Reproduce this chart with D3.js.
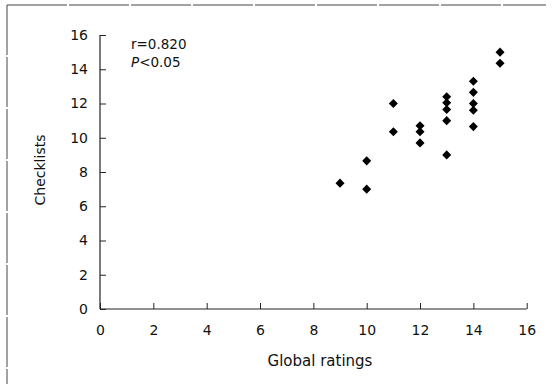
<!DOCTYPE html>
<html>
<head>
<meta charset="utf-8">
<script src="https://cdn.jsdelivr.net/npm/d3@7"></script>
<style>
  body { margin: 0; background: #fff; }
  text { font-family: "DejaVu Sans", sans-serif; fill: #111; }
</style>
</head>
<body>
<svg id="chart" width="552" height="384"></svg>
<script>
// ---- data ----
const globalRatings = [9, 10, 10, 11, 11, 12, 12, 12, 13, 13, 13, 13, 13, 14, 14, 14, 14, 14, 15, 15];
const checklists    = [7.35, 8.65, 7.0, 12.0, 10.35, 10.7, 10.35, 9.7, 12.4, 12.05, 11.65, 11.0, 9.0,
                       13.3, 12.65, 12.0, 11.6, 10.65, 15.0, 14.35];
const xTicks = [0, 2, 4, 6, 8, 10, 12, 14, 16];
const yTicks = [0, 2, 4, 6, 8, 10, 12, 14, 16];

const svg = d3.select('#chart');
const font = '"DejaVu Sans", sans-serif';

// ---- frame (top + left rule of the scanned box) ----
svg.append('line').attr('x1', 7).attr('x2', 546).attr('y1', 5).attr('y2', 5)
  .attr('stroke', '#444').attr('stroke-width', 1).attr('stroke-dasharray', '60 2');
svg.append('line').attr('x1', 7).attr('x2', 7).attr('y1', 5).attr('y2', 384)
  .attr('stroke', '#444').attr('stroke-width', 1).attr('stroke-dasharray', '50 2');

// ---- scales ----
const x = d3.scaleLinear().domain([0, 16]).range([100, 526.7]);
const y = d3.scaleLinear().domain([0, 16]).range([309, 35]);

// ---- axes ----
const xAxis = svg.append('g').attr('transform', `translate(0,${y(0)})`)
  .call(d3.axisBottom(x).tickValues(xTicks).tickSize(-6).tickPadding(16).tickSizeOuter(0));
const yAxis = svg.append('g').attr('transform', `translate(${x(0)},0)`)
  .call(d3.axisLeft(y).tickValues(yTicks).tickSize(-6).tickPadding(12).tickSizeOuter(0));

[xAxis, yAxis].forEach(g => {
  g.select('.domain').attr('stroke', '#222').attr('stroke-width', 1.2);
  g.selectAll('.tick line').attr('stroke', '#222').attr('stroke-width', 1);
  g.selectAll('.tick text').attr('font-size', 14).attr('fill', '#111')
    .style('font-family', font);
});
yAxis.select('.domain').attr('d', `M0,${y(16)}V${y(0)}`);
xAxis.select('.domain').attr('d', `M${x(0)},0H${x(16)}`);

// ---- axis titles ----
svg.append('text').attr('x', 320).attr('y', 366).attr('text-anchor', 'middle')
  .attr('font-size', 15).text('Global ratings');
svg.append('text').attr('transform', 'translate(45,170) rotate(-90)')
  .attr('text-anchor', 'middle').attr('font-size', 14).text('Checklists');

// ---- annotation ----
svg.append('text').attr('x', 131).attr('y', 49).attr('font-size', 13.5).text('r=0.820');
const p = svg.append('text').attr('x', 131).attr('y', 67).attr('font-size', 13.5);
p.append('tspan').attr('font-style', 'italic').text('P');
p.append('tspan').text('<0.05');

// ---- points ----
const diamond = d3.symbol().type(d3.symbolDiamond2).size(52);
svg.append('g').selectAll('path')
  .data(globalRatings.map((g, i) => ({ g, c: checklists[i] })))
  .join('path')
  .attr('d', diamond)
  .attr('transform', d => `translate(${x(d.g)},${y(d.c)})`)
  .attr('fill', '#000');
</script>
</body>
</html>
